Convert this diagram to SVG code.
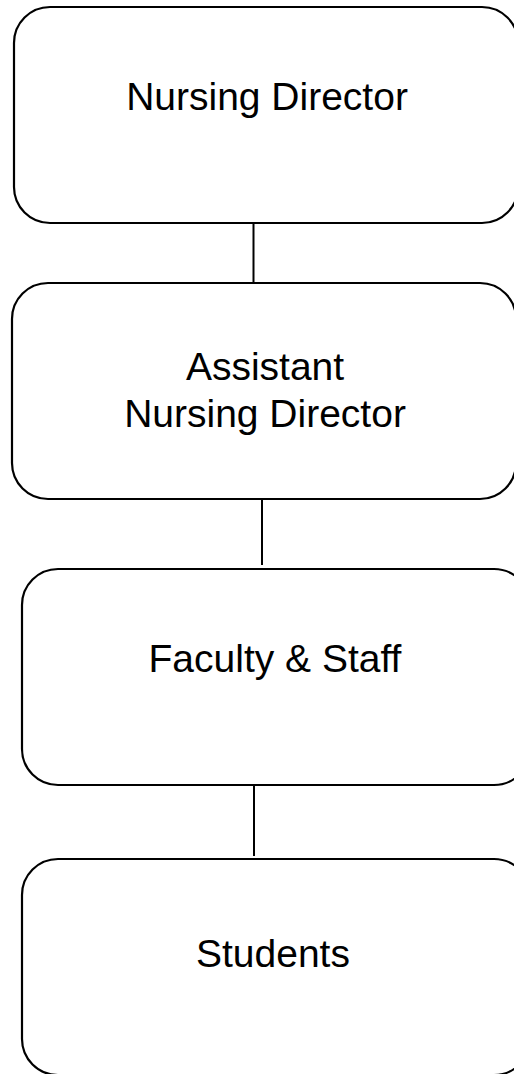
<svg xmlns="http://www.w3.org/2000/svg" width="514" height="1074" viewBox="0 0 514 1074">
<style>
.box{fill:#fff;stroke:#000;stroke-width:2.2}
.lbl{font-family:"Liberation Sans",Arial,sans-serif;font-size:39px;fill:#000;text-anchor:middle}
.conn{stroke:#000;stroke-width:2;fill:none}
</style>
<rect width="514" height="1074" fill="#fff"/>
<g id="connectors">
<line class="conn" x1="253.5" y1="223" x2="253.5" y2="283"/>
<line class="conn" x1="262" y1="499" x2="262" y2="565"/>
<line class="conn" x1="254" y1="785" x2="254" y2="856"/>
</g>
<g id="node1">
<rect class="box" x="14" y="7" width="504" height="216" rx="36"/>
<text class="lbl" x="267" y="110">Nursing Director</text>
</g>
<g id="node2">
<rect class="box" x="12" y="283" width="504" height="216" rx="36"/>
<text class="lbl" x="265" y="380">Assistant</text>
<text class="lbl" x="265" y="427">Nursing Director</text>
</g>
<g id="node3">
<rect class="box" x="22" y="569" width="508" height="216" rx="36"/>
<text class="lbl" x="275" y="672">Faculty &amp; Staff</text>
</g>
<g id="node4">
<rect class="box" x="22" y="859" width="508" height="216" rx="36"/>
<text class="lbl" x="273" y="967">Students</text>
</g>
</svg>
